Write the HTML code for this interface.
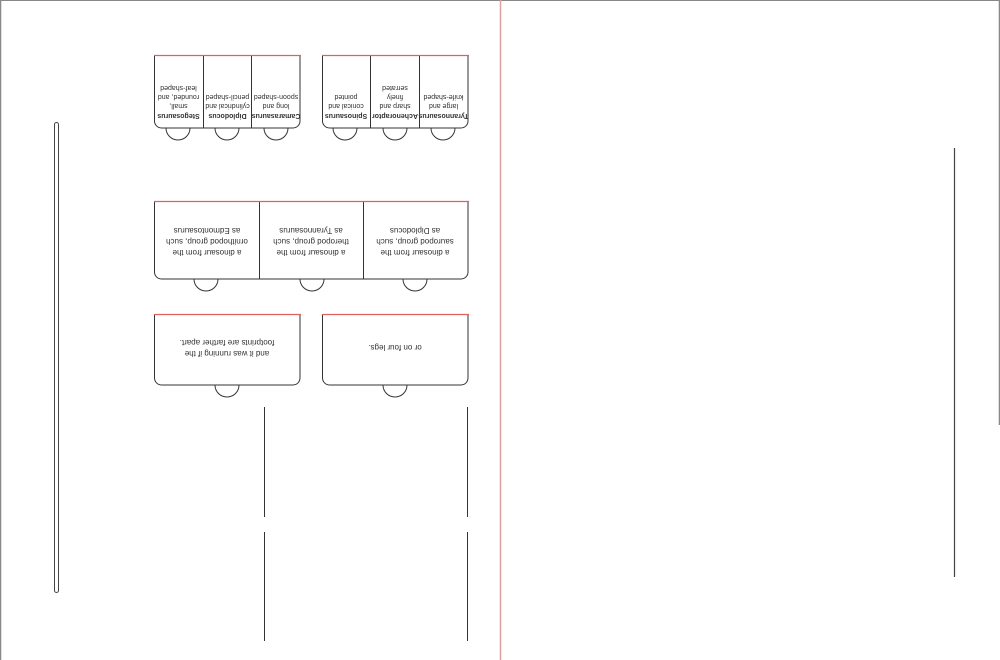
<!DOCTYPE html>
<html><head><meta charset="utf-8"><style>
html,body{margin:0;padding:0;background:#fff}
svg{display:block}
text{font-family:"Liberation Sans",sans-serif;font-size:8px;fill:#333}
.s text{font-size:7px}
.b{font-weight:bold}
</style></head><body>
<svg width="1000" height="660" viewBox="0 0 1000 660" xmlns="http://www.w3.org/2000/svg">
<line x1="0" y1="0.5" x2="1000" y2="0.5" stroke="#888" stroke-width="1"/>
<line x1="0.5" y1="0" x2="0.5" y2="660" stroke="#888" stroke-width="1.5"/>
<line x1="999.5" y1="0" x2="999.5" y2="425" stroke="#888" stroke-width="1.5"/>
<line x1="500.5" y1="0" x2="500.5" y2="660" stroke="#e0a0a0" stroke-width="1.5"/>
<rect x="54.5" y="122.5" width="4" height="470" rx="2" fill="none" stroke="#444" stroke-width="1"/>
<line x1="954.5" y1="148" x2="954.5" y2="577" stroke="#444" stroke-width="1.2"/>
<g fill="none" stroke="#333" stroke-width="1">
<line x1="264.5" y1="407" x2="264.5" y2="517"/><line x1="264.5" y1="532" x2="264.5" y2="641"/>
<line x1="467.5" y1="407" x2="467.5" y2="517"/><line x1="467.5" y1="532" x2="467.5" y2="641"/>
<path d="M166 128 A12 12 0 0 0 190 128"/><path d="M215 128 A12 12 0 0 0 239 128"/><path d="M264 128 A12 12 0 0 0 288 128"/>
<path d="M333 128 A12 12 0 0 0 357 128"/><path d="M383 128 A12 12 0 0 0 407 128"/><path d="M431 128 A12 12 0 0 0 455 128"/>
<path d="M194 279 A12 12 0 0 0 218 279"/><path d="M300 279 A12 12 0 0 0 324 279"/><path d="M403 279 A12 12 0 0 0 427 279"/>
<path d="M215 385 A12 12 0 0 0 239 385"/><path d="M383 385 A12 12 0 0 0 407 385"/>
<path d="M154.5 55.5 V121 a7 7 0 0 0 7 7 H293 a7 7 0 0 0 7 -7 V55.5"/>
<line x1="203.5" y1="55" x2="203.5" y2="128"/><line x1="251.5" y1="55" x2="251.5" y2="128"/>
<path d="M322.5 55.5 V121 a7 7 0 0 0 7 7 H461 a7 7 0 0 0 7 -7 V55.5"/>
<line x1="370.5" y1="55" x2="370.5" y2="128"/><line x1="419.5" y1="55" x2="419.5" y2="128"/>
<path d="M154.5 201.5 V272 a7 7 0 0 0 7 7 H461 a7 7 0 0 0 7 -7 V201.5"/>
<line x1="259.5" y1="201" x2="259.5" y2="279"/><line x1="363.5" y1="201" x2="363.5" y2="279"/>
<path d="M154.5 314.5 V378 a7 7 0 0 0 7 7 H293 a7 7 0 0 0 7 -7 V314.5"/>
<path d="M322.5 314.5 V378 a7 7 0 0 0 7 7 H461 a7 7 0 0 0 7 -7 V314.5"/>
</g>
<g stroke="#e06060" stroke-width="1.2">
<line x1="154" y1="55.5" x2="301" y2="55.5"/><line x1="322" y1="55.5" x2="469" y2="55.5"/>
<line x1="154" y1="201.5" x2="469" y2="201.5"/>
<line x1="154" y1="314.5" x2="301" y2="314.5"/><line x1="322" y1="314.5" x2="469" y2="314.5"/>
</g>
<g text-anchor="middle" class="s">
<g transform="rotate(180 178.5 92)"><text x="178.5" y="70" class="b">Stegosaurus</text><text x="178.5" y="80">small,</text><text x="178.5" y="89">rounded, and</text><text x="178.5" y="98">leaf-shaped</text></g>
<g transform="rotate(180 227.5 92)"><text x="227.5" y="70" class="b">Diplodocus</text><text x="227.5" y="80">cylindrical and</text><text x="227.5" y="89">pencil-shaped</text></g>
<g transform="rotate(180 276 92)"><text x="276" y="70" class="b">Camarasaurus</text><text x="276" y="80">long and</text><text x="276" y="89">spoon-shaped</text></g>
<g transform="rotate(180 346 92)"><text x="346" y="70" class="b">Spinosaurus</text><text x="346" y="80">conical and</text><text x="346" y="89">pointed</text></g>
<g transform="rotate(180 395 92)"><text x="395" y="70" class="b">Achenoraptor</text><text x="395" y="80">sharp and</text><text x="395" y="89">finely</text><text x="395" y="98">serrated</text></g>
<g transform="rotate(180 443.5 92)"><text x="443.5" y="70" class="b">Tyrannosaurus</text><text x="443.5" y="80">large and</text><text x="443.5" y="89">knife-shaped</text></g>
</g>
<g text-anchor="middle" style="font-size:8.5px">
<g transform="rotate(180 207 240)"><text x="207" y="230">a dinosaur from the</text><text x="207" y="241">ornithopod group, such</text><text x="207" y="252">as Edmontosaurus</text></g>
<g transform="rotate(180 311 240)"><text x="311" y="230">a dinosaur from the</text><text x="311" y="241">theropod group, such</text><text x="311" y="252">as Tyrannosaurus</text></g>
<g transform="rotate(180 415 240)"><text x="415" y="230">a dinosaur from the</text><text x="415" y="241">sauropod group, such</text><text x="415" y="252">as Diplodocus</text></g>
<g transform="rotate(180 227 348)"><text x="227" y="345">and it was running if the</text><text x="227" y="356">footprints are farther apart.</text></g>
<g transform="rotate(180 395 348)"><text x="395" y="351">or on four legs.</text></g>
</g>
</svg>
</body></html>
